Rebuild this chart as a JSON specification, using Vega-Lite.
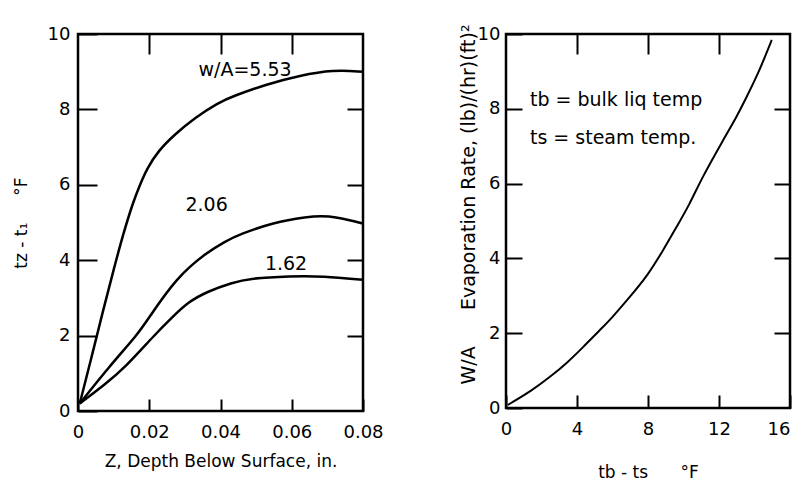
{
  "$schema": "https://vega.github.io/schema/vega-lite/v6.json",
  "background": "white",
  "padding": {"left": 10, "top": 22, "right": 0, "bottom": 0},
  "config": {
    "font": "DejaVu Sans",
    "view": {"stroke": "black", "strokeWidth": 2.5},
    "axis": {"grid": false, "domain": false, "tickColor": "black", "tickWidth": 2, "labelColor": "black", "titleColor": "black", "labelFontSize": 18, "titleFontSize": 17, "titleFontWeight": "normal", "labelFont": "DejaVu Sans", "titleFont": "DejaVu Sans"},
    "text": {"font": "DejaVu Sans", "fontSize": 19, "color": "black"}
  },
  "datasets": {
    "depth": [
      {"series": "5.53", "z": 0.0005, "dt": 0.2},
      {"series": "5.53", "z": 0.004, "dt": 1.5},
      {"series": "5.53", "z": 0.007, "dt": 2.65},
      {"series": "5.53", "z": 0.010, "dt": 3.75},
      {"series": "5.53", "z": 0.0127, "dt": 4.7},
      {"series": "5.53", "z": 0.0155, "dt": 5.55},
      {"series": "5.53", "z": 0.0174, "dt": 6.0},
      {"series": "5.53", "z": 0.0193, "dt": 6.42},
      {"series": "5.53", "z": 0.0225, "dt": 6.9},
      {"series": "5.53", "z": 0.0272, "dt": 7.34},
      {"series": "5.53", "z": 0.0328, "dt": 7.78},
      {"series": "5.53", "z": 0.0394, "dt": 8.18},
      {"series": "5.53", "z": 0.0435, "dt": 8.35},
      {"series": "5.53", "z": 0.053, "dt": 8.67},
      {"series": "5.53", "z": 0.0623, "dt": 8.9},
      {"series": "5.53", "z": 0.0716, "dt": 9.05},
      {"series": "5.53", "z": 0.08, "dt": 9.0},
      {"series": "2.06", "z": 0.0005, "dt": 0.2},
      {"series": "2.06", "z": 0.0085, "dt": 1.15},
      {"series": "2.06", "z": 0.0169, "dt": 2.05},
      {"series": "2.06", "z": 0.0193, "dt": 2.39},
      {"series": "2.06", "z": 0.0277, "dt": 3.55},
      {"series": "2.06", "z": 0.0361, "dt": 4.2},
      {"series": "2.06", "z": 0.0413, "dt": 4.5},
      {"series": "2.06", "z": 0.0455, "dt": 4.69},
      {"series": "2.06", "z": 0.0548, "dt": 5.0},
      {"series": "2.06", "z": 0.0642, "dt": 5.15},
      {"series": "2.06", "z": 0.0698, "dt": 5.2},
      {"series": "2.06", "z": 0.0792, "dt": 5.0},
      {"series": "2.06", "z": 0.08, "dt": 4.97},
      {"series": "1.62", "z": 0.0005, "dt": 0.2},
      {"series": "1.62", "z": 0.0076, "dt": 0.71},
      {"series": "1.62", "z": 0.0132, "dt": 1.15},
      {"series": "1.62", "z": 0.0216, "dt": 2.03},
      {"series": "1.62", "z": 0.0263, "dt": 2.47},
      {"series": "1.62", "z": 0.031, "dt": 2.9},
      {"series": "1.62", "z": 0.0366, "dt": 3.18},
      {"series": "1.62", "z": 0.0431, "dt": 3.4},
      {"series": "1.62", "z": 0.0483, "dt": 3.52},
      {"series": "1.62", "z": 0.0595, "dt": 3.58},
      {"series": "1.62", "z": 0.0689, "dt": 3.58},
      {"series": "1.62", "z": 0.08, "dt": 3.48}
    ],
    "depthLabels": [
      {"label": "w/A=5.53", "z": 0.0469, "dt": 9.05},
      {"label": "2.06", "z": 0.0361, "dt": 5.46},
      {"label": "1.62", "z": 0.0584, "dt": 3.91}
    ],
    "evap": [
      {"td": 0.1, "wa": 0.08},
      {"td": 1.5, "wa": 0.48},
      {"td": 2.48, "wa": 0.83},
      {"td": 3.43, "wa": 1.2},
      {"td": 4.37, "wa": 1.64},
      {"td": 5.3, "wa": 2.09},
      {"td": 5.95, "wa": 2.4},
      {"td": 6.99, "wa": 2.98},
      {"td": 7.93, "wa": 3.51},
      {"td": 8.86, "wa": 4.22},
      {"td": 9.62, "wa": 4.85},
      {"td": 10.37, "wa": 5.47},
      {"td": 11.02, "wa": 6.14},
      {"td": 12.24, "wa": 7.17},
      {"td": 13.0, "wa": 7.79},
      {"td": 13.56, "wa": 8.32},
      {"td": 14.12, "wa": 8.86},
      {"td": 14.59, "wa": 9.39},
      {"td": 14.97, "wa": 9.84}
    ],
    "evapLabels": [
      {"label": "tb = bulk liq temp", "td": 1.35, "wa": 8.24},
      {"label": "ts = steam temp.", "td": 1.35, "wa": 7.22}
    ]
  },
  "bounds": "flush",
  "spacing": 143,
  "hconcat": [
    {
      "width": 285,
      "height": 377,
      "resolve": {"axis": {"x": "independent", "y": "independent"}},
      "layer": [
        {
          "data": {"name": "depth"},
          "mark": {"type": "line", "color": "black", "strokeWidth": 2.5, "interpolate": "basis"},
          "encoding": {
            "x": {"field": "z", "type": "quantitative", "scale": {"domain": [0, 0.08], "nice": false},
              "axis": {"orient": "bottom", "values": [0, 0.02, 0.04, 0.06, 0.08], "labelExpr": "datum.value == 0 ? '0' : format(datum.value, '.2f')", "offset": -12, "tickSize": 12, "labelPadding": 12, "labelFlush": false, "title": "Z, Depth Below Surface, in.", "titlePadding": 12}},
            "y": {"field": "dt", "type": "quantitative", "scale": {"domain": [0, 10], "nice": false},
              "axis": {"orient": "left", "values": [0, 2, 4, 6, 8, 10], "offset": -19, "tickSize": 19, "labelPadding": 8, "labelFlush": false, "title": "tz - t\u2081\u00a0\u00a0\u00a0\u00a0\u00a0\u00b0F", "titlePadding": 17}},
            "detail": {"field": "series"}
          }
        },
        {
          "data": {"name": "depthLabels"},
          "mark": {"type": "text"},
          "encoding": {
            "x": {"field": "z", "type": "quantitative", "axis": null},
            "y": {"field": "dt", "type": "quantitative", "axis": null},
            "text": {"field": "label"}
          }
        },
        {
          "data": {"name": "depth"},
          "mark": {"type": "point", "opacity": 0},
          "encoding": {
            "x": {"field": "z", "type": "quantitative", "axis": {"orient": "top", "values": [0.02, 0.04, 0.06], "labels": false, "title": null, "offset": -20, "tickSize": 20}},
            "y": {"field": "dt", "type": "quantitative", "axis": {"orient": "right", "values": [2, 4, 6, 8], "labels": false, "title": null, "offset": -16, "tickSize": 16}}
          }
        }
      ]
    },
    {
      "width": 284,
      "height": 374,
      "resolve": {"axis": {"x": "independent", "y": "independent"}},
      "layer": [
        {
          "data": {"name": "evap"},
          "mark": {"type": "line", "color": "black", "strokeWidth": 2, "interpolate": "basis"},
          "encoding": {
            "x": {"field": "td", "type": "quantitative", "scale": {"domain": [0, 16], "nice": false},
              "axis": {"orient": "bottom", "values": [0, 4, 8, 12, 16], "offset": -13, "tickSize": 13, "labelPadding": 12, "labelFlush": false, "labelAlign": {"condition": {"test": "datum.value === 16", "value": "right"}, "value": "center"}, "title": "tb - ts\u00a0\u00a0\u00a0\u00a0\u00a0\u00a0\u00b0F", "titlePadding": 26}},
            "y": {"field": "wa", "type": "quantitative", "scale": {"domain": [0, 10], "nice": false},
              "axis": {"orient": "left", "values": [0, 2, 4, 6, 8, 10], "offset": -16, "tickSize": 16, "labelPadding": 6, "labelFlush": false, "title": "W/A\u00a0\u00a0\u00a0\u00a0\u00a0\u00a0Evaporation Rate, (lb)/(hr)(ft)\u00b2", "titleFontSize": 19, "titlePadding": -1, "titleY": 170}}
          }
        },
        {
          "data": {"name": "evapLabels"},
          "mark": {"type": "text", "align": "left"},
          "encoding": {
            "x": {"field": "td", "type": "quantitative", "axis": null},
            "y": {"field": "wa", "type": "quantitative", "axis": null},
            "text": {"field": "label"}
          }
        },
        {
          "data": {"name": "evap"},
          "mark": {"type": "point", "opacity": 0},
          "encoding": {
            "x": {"field": "td", "type": "quantitative", "axis": {"orient": "top", "values": [4, 8, 12], "labels": false, "title": null, "offset": -20, "tickSize": 20}},
            "y": {"field": "wa", "type": "quantitative", "axis": {"orient": "right", "values": [2, 4, 6, 8], "labels": false, "title": null, "offset": -16, "tickSize": 16}}
          }
        }
      ]
    }
  ]
}
